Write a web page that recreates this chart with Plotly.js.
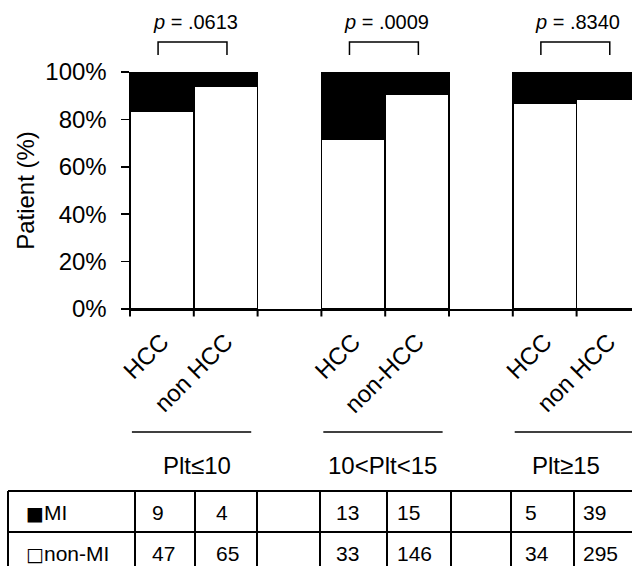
<!DOCTYPE html>
<html><head><meta charset="utf-8">
<script src="https://cdn.plot.ly/plotly-3.0.1.min.js"></script>
<style>html,body{margin:0;padding:0;background:#fff}#chart{width:632px;height:566px}</style>
</head><body><div id="chart"></div>
<script>
// ---- data ----
const catIds = ['g1-HCC','g1-non','gap1','g2-HCC','g2-non','gap2','g3-HCC','g3-non','gap3'];
const catLabels = ['HCC','non HCC','','HCC','non-HCC','','HCC','non HCC',''];
const barIds = ['g1-HCC','g1-non','g2-HCC','g2-non','g3-HCC','g3-non'];
const groupLabels = ['Plt≤10','10<Plt<15','Plt≥15'];
const pValues = ['.0613','.0009','.8340'];
const nonMiPct = [83.6, 94.0, 71.5, 90.5, 86.9, 88.4];
const miPct = [16.4, 6.0, 28.5, 9.5, 13.1, 11.6];
const miCounts = ['9','4','','13','15','','5','39'];
const nonMiCounts = ['47','65','','33','146','','34','295'];
const rowSymbols = ['■','□'];
const rowLabels = ['MI','non-MI'];
const yTickVals = [0,20,40,60,80,100];
const yTickText = ['0%','20%','40%','60%','80%','100%'];

// ---- layout constants ----
const W = 632, H = 566;
const L = 130, T = 72, B = 257;
const plotW = W - L, plotH = H - T - B;
const slotPx = 63.8;
const xMax = plotW / slotPx - 0.5;
const FONT = '"Liberation Sans", Arial, sans-serif';
const px2x = px => (px - L) / plotW;
const py2y = py => (H - B - py) / plotH;
const idx2x = i => (i + 0.5) / (xMax + 0.5);

// category slot index of each bar
const barSlot = barIds.map(id => catIds.indexOf(id));
const catSlot = catIds.map((_, i) => i);
const boundaryTicks = catIds.map((_, i) => i - 0.5);

const shapes = [], annotations = [];
const lineStyle = {color: '#000', width: 1.5};

// category-boundary tick marks below the x axis
boundaryTicks.filter(b => b <= xMax).forEach(b => shapes.push({type: 'line', xref: 'paper', yref: 'paper',
  x0: idx2x(b), x1: idx2x(b), y0: py2y(309), y1: py2y(316.5), line: {color: '#000', width: 2}}));

// brackets + p values
for (let g = 0; g < 3; g++) {
  const i0 = 3 * g, i1 = 3 * g + 1;
  const x0 = idx2x(i0 - 0.06), x1 = idx2x(i1 + 0.02);
  const yt = py2y(42), yb = py2y(55);
  shapes.push({type: 'path', xref: 'paper', yref: 'paper',
    path: `M${x0},${yb} L${x0},${yt} L${x1},${yt} L${x1},${yb}`, line: lineStyle});
  annotations.push({xref: 'paper', yref: 'paper', x: idx2x(i0 + 0.52), y: py2y(22),
    text: '<i>p</i> = ' + pValues[g], showarrow: false, xanchor: 'center', yanchor: 'middle',
    font: {family: FONT, size: 20, color: '#000'}});
  shapes.push({type: 'line', xref: 'paper', yref: 'paper',
    x0: idx2x(i0 - 0.47), x1: idx2x(i1 + 0.4), y0: py2y(432), y1: py2y(432), line: lineStyle});
}
const groupLabelPx = [197, 382, 566];
groupLabels.forEach((t, g) => annotations.push({xref: 'paper', yref: 'paper',
  x: px2x(groupLabelPx[g]), y: py2y(465), text: t, showarrow: false,
  xanchor: 'center', yanchor: 'middle', font: {family: FONT, size: 24, color: '#000'}}));

// table
const colPx = [8, 135, 195, 257, 320, 387, 451, 511, 574];
const rowPx = [491, 532, 573];
const tblLine = {color: '#000', width: 2};
rowPx.forEach(py => shapes.push({type: 'line', xref: 'paper', yref: 'paper',
  x0: px2x(8), x1: px2x(W + 5), y0: py2y(py), y1: py2y(py), line: tblLine}));
colPx.forEach(px => shapes.push({type: 'line', xref: 'paper', yref: 'paper',
  x0: px2x(px), x1: px2x(px), y0: py2y(491), y1: py2y(H + 10), line: tblLine}));
const textLeftPx = [150, 214, 0, 334, 395, 0, 523, 581];
const rowMidPx = [512, 553];
const tableFont = {family: FONT, size: 21, color: '#000'};
rowLabels.forEach((t, r) => annotations.push({xref: 'paper', yref: 'paper',
  x: px2x(24), y: py2y(rowMidPx[r]),
  text: '<span style="font-family:\'DejaVu Sans\';font-size:19px">' + rowSymbols[r] + '</span>' + t,
  showarrow: false, xanchor: 'left', yanchor: 'middle', font: tableFont}));
[miCounts, nonMiCounts].forEach((row, r) => row.forEach((v, c) => {
  if (v === '') return;
  annotations.push({xref: 'paper', yref: 'paper', x: px2x(textLeftPx[c]), y: py2y(rowMidPx[r]),
    text: v, showarrow: false, xanchor: 'left', yanchor: 'middle', font: tableFont});
}));

const traces = [
  {type: 'bar', name: 'non-MI', x: barSlot, y: nonMiPct, width: 1,
   marker: {color: '#fff', line: {color: '#000', width: 1.5}}, hoverinfo: 'skip'},
  {type: 'bar', name: 'MI', x: barSlot, y: miPct, width: 1,
   marker: {color: '#000', line: {color: '#000', width: 1.5}}, hoverinfo: 'skip'}
];

const layout = {
  width: W, height: H,
  margin: {l: L, r: 0, t: T, b: B, pad: 0},
  paper_bgcolor: '#fff', plot_bgcolor: '#fff',
  barmode: 'stack', bargap: 0, showlegend: false,
  font: {family: FONT, color: '#000'},
  xaxis: {type: 'linear', range: [-0.5, xMax],
    tickmode: 'array', tickvals: catSlot, ticktext: catLabels,
    ticks: '', ticklabelstandoff: 8,
    showline: true, linecolor: '#000', linewidth: 1.5, showgrid: false, zeroline: false,
    tickangle: -45, tickfont: {family: FONT, size: 24, color: '#000'}, automargin: false, fixedrange: true},
  yaxis: {range: [0, 100], tickvals: yTickVals, ticktext: yTickText,
    ticks: 'outside', ticklen: 8, tickwidth: 1.5, tickcolor: '#000', ticklabelstandoff: 9,
    showline: true, linecolor: '#000', linewidth: 1.5, showgrid: false, zeroline: false,
    tickfont: {family: FONT, size: 24, color: '#000'},
    title: {text: 'Patient (%)', font: {family: FONT, size: 24, color: '#000'}, standoff: 4},
    automargin: false, fixedrange: true},
  shapes: shapes, annotations: annotations
};

Plotly.newPlot('chart', traces, layout, {displayModeBar: false, staticPlot: true});
</script>
</body></html>
